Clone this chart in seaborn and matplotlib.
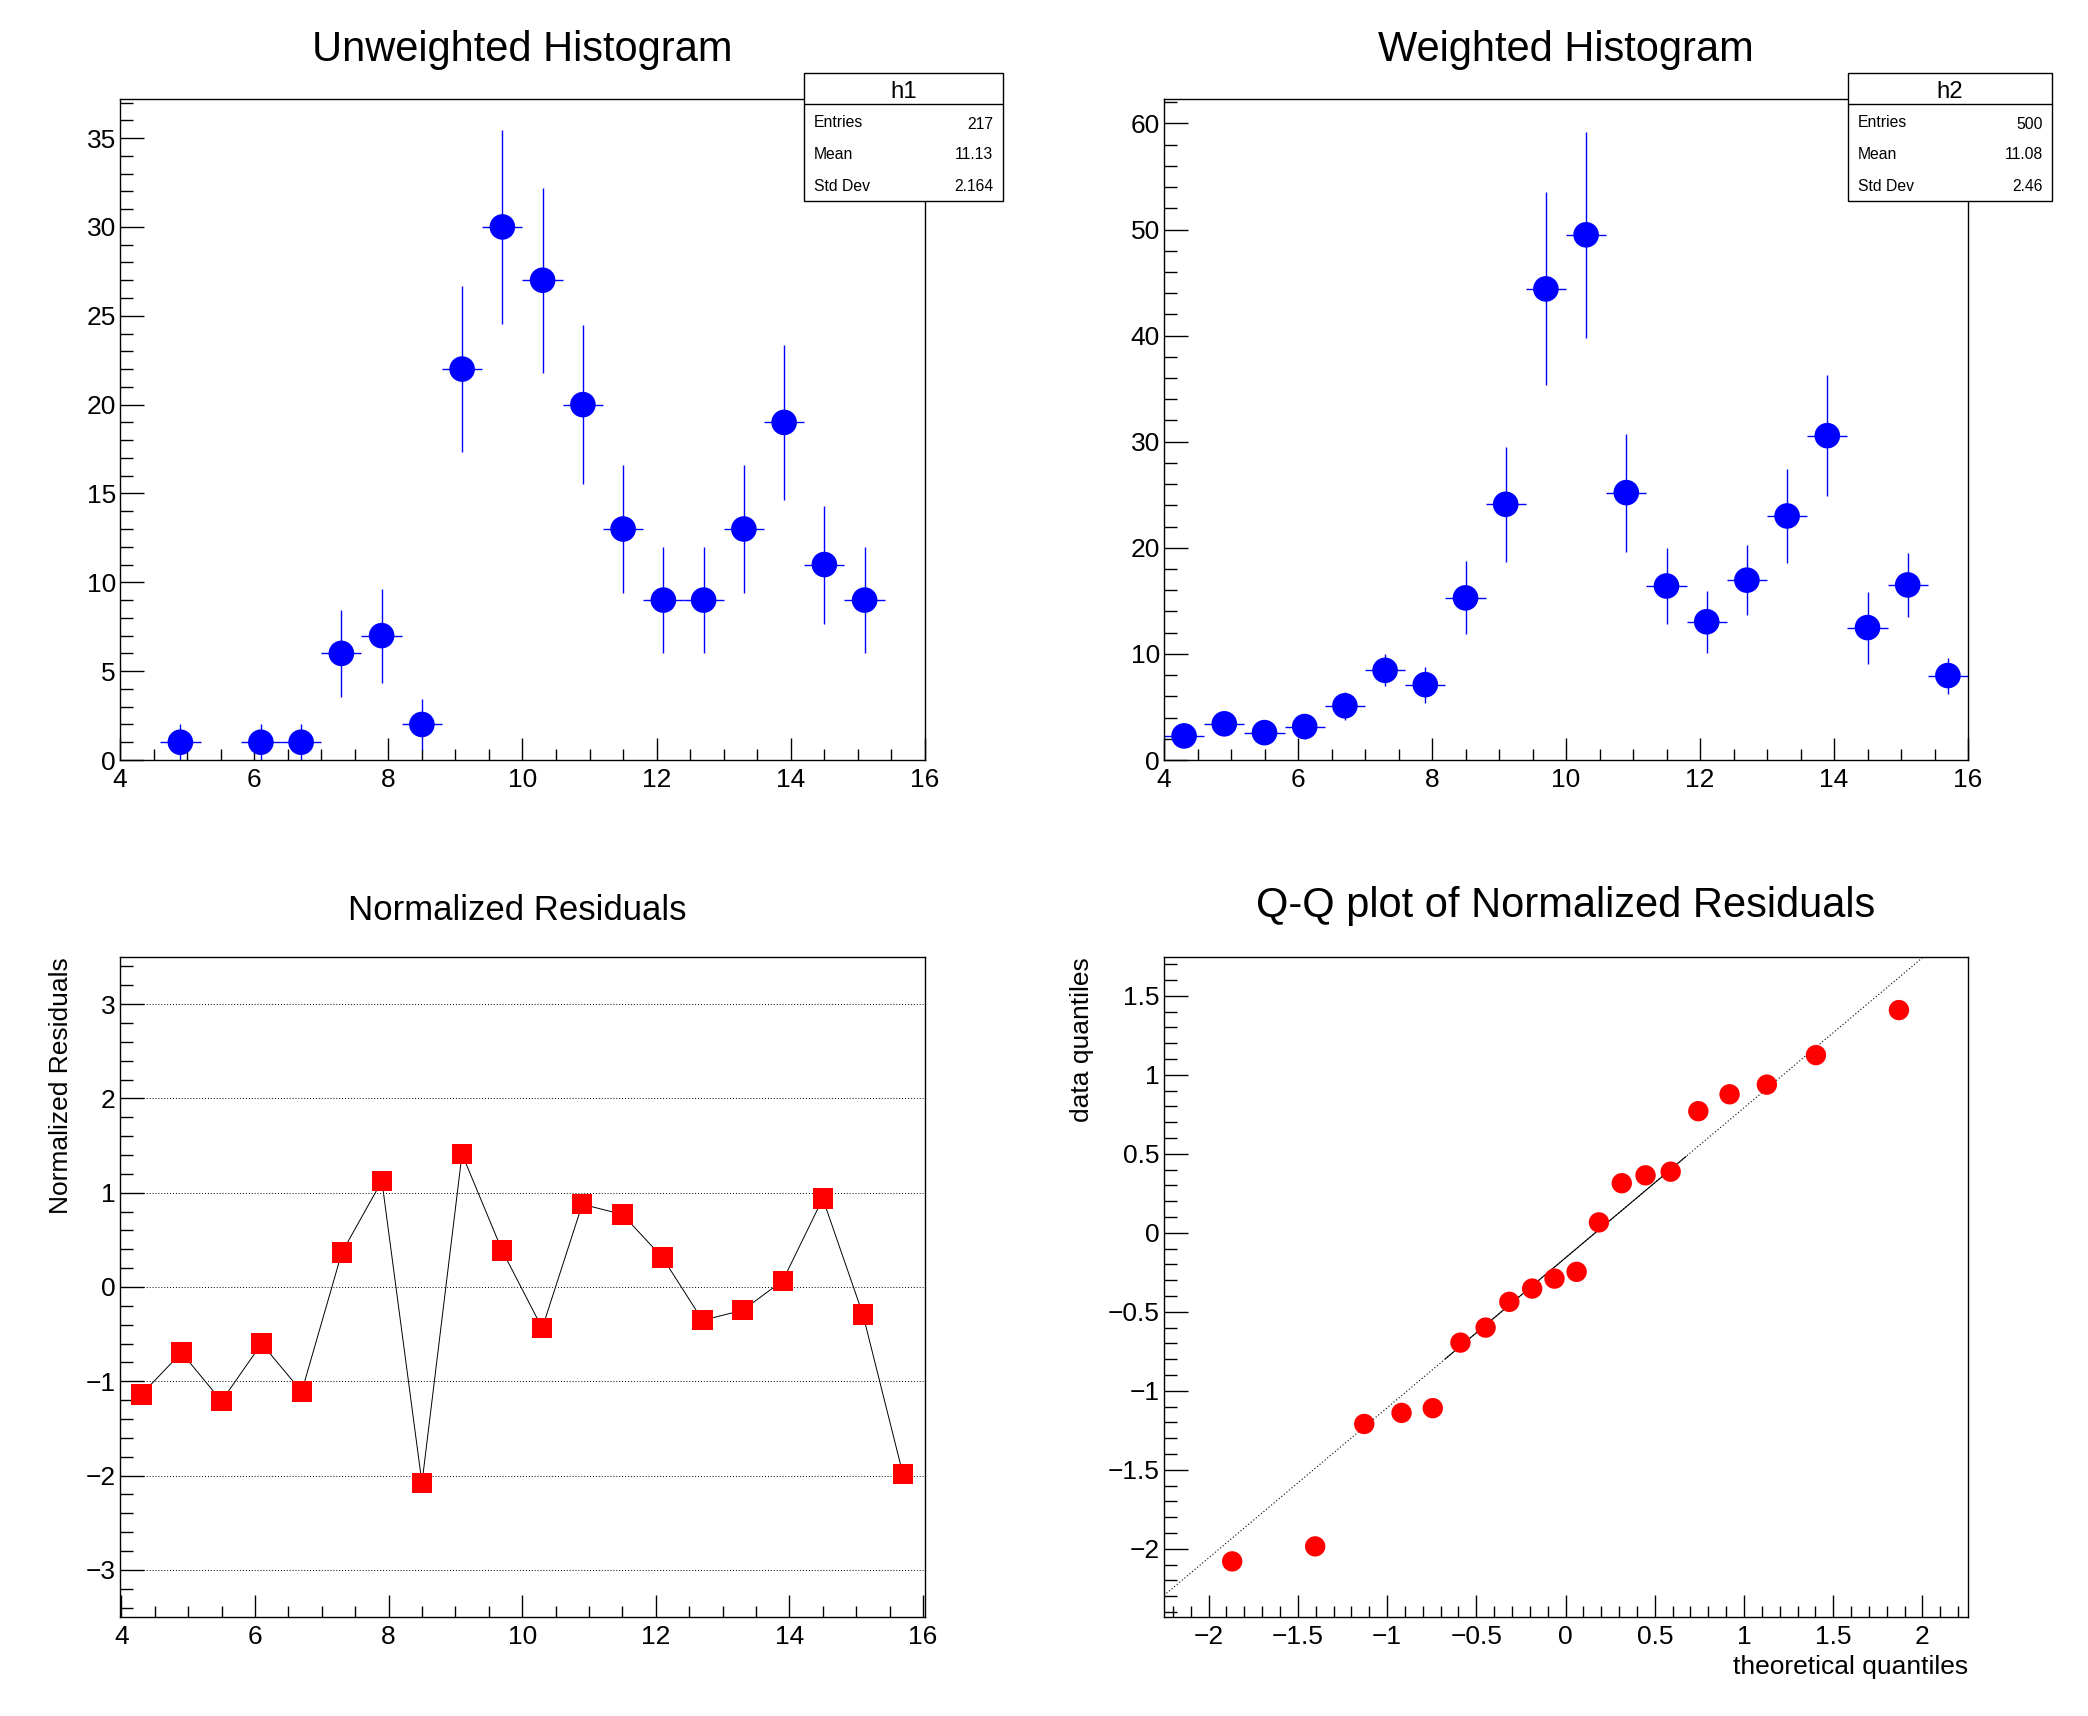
import numpy as np
import pandas as pd
import matplotlib
matplotlib.use("Agg")
import matplotlib.pyplot as plt
import seaborn as sns
from matplotlib.ticker import MultipleLocator, FuncFormatter
from matplotlib.patches import Rectangle
from matplotlib.lines import Line2D

# ---------------- data ----------------
bin_centers = [4.3, 4.9, 5.5, 6.1, 6.7, 7.3, 7.9, 8.5, 9.1, 9.7,
               10.3, 10.9, 11.5, 12.1, 12.7, 13.3, 13.9, 14.5, 15.1, 15.7]
bin_half_width = 0.3

# unweighted histogram (non-empty bins only)
h1_x = [4.9, 6.1, 6.7, 7.3, 7.9, 8.5, 9.1, 9.7, 10.3, 10.9, 11.5, 12.1,
        12.7, 13.3, 13.9, 14.5, 15.1]
h1_counts = [1, 1, 1, 6, 7, 2, 22, 30, 27, 20, 13, 9, 9, 13, 19, 11, 9]
h1_err = [1.0, 1.0, 1.0, 2.45, 2.65, 1.41, 4.69, 5.48, 5.2, 4.47, 3.61,
          3.0, 3.0, 3.61, 4.36, 3.32, 3.0]
h1_stats = ["217", "11.13", "2.164"]

# weighted histogram
h2_values = [2.27, 3.41, 2.58, 3.15, 5.11, 8.45, 7.1, 15.28, 24.1, 44.4,
             49.5, 25.2, 16.4, 13.03, 16.95, 23.0, 30.57, 12.48, 16.5, 7.96]
h2_err = [0.9, 1.1, 1.0, 1.2, 1.3, 1.5, 1.7, 3.45, 5.4, 9.1, 9.7, 5.55,
          3.6, 2.9, 3.3, 4.45, 5.7, 3.4, 3.0, 1.7]
h2_stats = ["500", "11.08", "2.46"]

stat_labels = ["Entries", "Mean", "Std Dev"]

# normalized residuals per bin
residuals = [-1.14, -0.695, -1.21, -0.60, -1.11, 0.364, 1.125, -2.08, 1.41,
             0.387, -0.437, 0.877, 0.77, 0.314, -0.353, -0.247, 0.066,
             0.938, -0.29, -1.985]

# theoretical normal quantiles for the Q-Q plot
qq_theoretical = [-1.868, -1.403, -1.128, -0.919, -0.744, -0.589, -0.448,
                  -0.315, -0.187, -0.062, 0.062, 0.187, 0.315, 0.448, 0.589,
                  0.744, 0.919, 1.128, 1.403, 1.868]
normal_quartile = 0.6745

# ---------------- style ----------------
sns.set_theme(style="white")
plt.rcParams["font.family"] = ["Liberation Sans", "DejaVu Sans"]
plt.rcParams["axes.unicode_minus"] = True
plt.rcParams["text.color"] = "black"
plt.rcParams["axes.labelcolor"] = "black"
plt.rcParams["axes.titlecolor"] = "black"
plt.rcParams["xtick.color"] = "black"
plt.rcParams["ytick.color"] = "black"

W, H = 2088, 1716
fig = plt.figure(figsize=(W / 100, H / 100), dpi=100)
fig.patch.set_facecolor("white")

BLUE = "#0000ff"
RED = "#ff0000"


def fx(px):
    return px / W


def fy(py):
    return 1 - py / H


def make_axes(l, t, r, b):
    return fig.add_axes([l / W, 1 - b / H, (r - l) / W, (b - t) / H])


def fmt(v, pos):
    s = "%g" % round(v, 6)
    return s.replace("-", "\u2212")


def style(ax, xmaj, xmin, ymaj, ymin):
    for sp in ax.spines.values():
        sp.set_visible(True)
        sp.set_linewidth(1.0)
        sp.set_color("black")
    ax.set_facecolor("white")
    ax.xaxis.set_major_locator(MultipleLocator(xmaj))
    ax.xaxis.set_minor_locator(MultipleLocator(xmin))
    ax.yaxis.set_major_locator(MultipleLocator(ymaj))
    ax.yaxis.set_minor_locator(MultipleLocator(ymin))
    ax.xaxis.set_major_formatter(FuncFormatter(fmt))
    ax.yaxis.set_major_formatter(FuncFormatter(fmt))
    ax.tick_params(which="both", direction="in", top=False, right=False,
                   bottom=True, left=True, colors="black", width=1.0,
                   labelsize=19, labelcolor="black")
    ax.tick_params(axis="x", which="major", length=15.5, pad=6)
    ax.tick_params(axis="x", which="minor", length=8)
    ax.tick_params(axis="y", which="major", length=17, pad=3)
    ax.tick_params(axis="y", which="minor", length=9)
    ax.grid(False)


def stats_box(left, right, name, values):
    top, div, bottom = 72.7, 104.3, 200.7
    rect = Rectangle((fx(left), fy(bottom)), fx(right) - fx(left),
                     fy(top) - fy(bottom), transform=fig.transFigure,
                     facecolor="white", edgecolor="black", linewidth=1.0,
                     zorder=10)
    fig.add_artist(rect)
    line = Line2D([fx(left), fx(right)], [fy(div), fy(div)],
                  transform=fig.transFigure, color="black", linewidth=1.0,
                  zorder=11)
    fig.add_artist(line)
    fig.text(fx((left + right) / 2), fy(97.7), name, ha="center",
             va="baseline", fontsize=17.3, color="black", zorder=12)
    label_base = [126.7, 159.3, 190.7]
    value_base = [129.0, 159.3, 190.7]
    for lab, val, lb, vb in zip(stat_labels, values, label_base, value_base):
        fig.text(fx(left + 9.5), fy(lb), lab, ha="left", va="baseline",
                 fontsize=11.3, color="black", zorder=12)
        fig.text(fx(right - 9.5), fy(vb), val, ha="right", va="baseline",
                 fontsize=11.3, color="black", zorder=12)


MS_HIST = 340
MS_SMALL = 215

# ---------------- top-left: unweighted ----------------
ax1 = make_axes(120, 99, 925, 760)
df1 = pd.DataFrame({"x": h1_x, "y": h1_counts, "err": h1_err})
ax1.errorbar(df1["x"], df1["y"], yerr=df1["err"], xerr=bin_half_width,
             fmt="none", ecolor=BLUE, elinewidth=1.0, capsize=0, zorder=2)
sns.scatterplot(data=df1, x="x", y="y", ax=ax1, color=BLUE, s=MS_HIST,
                marker="o", edgecolor="none", linewidth=0, zorder=3,
                legend=False)
ax1.set_xlim(4, 16)
ax1.set_ylim(0, 37.2)
style(ax1, 2, 0.5, 5, 1)
ax1.set_xlabel("")
ax1.set_ylabel("")
ax1.set_title("Unweighted Histogram", fontsize=30, y=1.0582, pad=0,
              color="black")
stats_box(804, 1003, "h1", h1_stats)

# ---------------- top-right: weighted ----------------
ax2 = make_axes(1164, 99, 1968, 760)
df2 = pd.DataFrame({"x": bin_centers, "y": h2_values, "err": h2_err})
ax2.errorbar(df2["x"], df2["y"], yerr=df2["err"], xerr=bin_half_width,
             fmt="none", ecolor=BLUE, elinewidth=1.0, capsize=0, zorder=2)
sns.scatterplot(data=df2, x="x", y="y", ax=ax2, color=BLUE, s=MS_HIST,
                marker="o", edgecolor="none", linewidth=0, zorder=3,
                legend=False)
ax2.set_xlim(4, 16)
ax2.set_ylim(0, 62.3)
style(ax2, 2, 0.5, 10, 2)
ax2.set_xlabel("")
ax2.set_ylabel("")
ax2.set_title("Weighted Histogram", fontsize=30, y=1.0582, pad=0,
              color="black")
stats_box(1848, 2052, "h2", h2_stats)

# ---------------- bottom-left: residuals ----------------
ax3 = make_axes(120, 957, 925, 1617)
df3 = pd.DataFrame({"x": bin_centers, "r": residuals})
for yv in range(-3, 4):
    ax3.axhline(yv, color="black", linewidth=0.7, linestyle=(0, (1, 2)),
                zorder=1)
sns.lineplot(data=df3, x="x", y="r", ax=ax3, color="black", linewidth=0.7,
             zorder=2, legend=False)
sns.scatterplot(data=df3, x="x", y="r", ax=ax3, color=RED, s=MS_SMALL,
                marker="s", edgecolor="none", linewidth=0, zorder=3,
                legend=False)
ax3.set_xlim(3.98, 16.03)
ax3.set_ylim(-3.5, 3.5)
style(ax3, 2, 0.5, 1, 0.2)
ax3.set_xlabel("")
ax3.set_ylabel("Normalized Residuals", fontsize=19, loc="top")
ax3.yaxis.set_label_coords(-0.0733, 1.0)
ax3.yaxis.label.set_va("center")
ax3.set_title("Normalized Residuals", fontsize=25, y=1.0566, x=0.493,
              pad=0, color="black")

# ---------------- bottom-right: Q-Q ----------------
ax4 = make_axes(1164, 957, 1968, 1617)
qq_data = np.sort(np.array(residuals))
df4 = pd.DataFrame({"t": qq_theoretical, "d": qq_data})
q1, q3 = np.percentile(qq_data, [25, 75])
slope = (q3 - q1) / (2 * normal_quartile)
intercept = (q3 + q1) / 2
xl = np.array([-2.25, 2.25])
ax4.plot(xl, intercept + slope * xl, color="black", linewidth=0.8,
         linestyle=(0, (1, 2)), zorder=1)
xs = np.array([-normal_quartile, normal_quartile])
ax4.plot(xs, intercept + slope * xs, color="black", linewidth=0.8,
         linestyle="-", zorder=1)
sns.scatterplot(data=df4, x="t", y="d", ax=ax4, color=RED, s=MS_SMALL,
                marker="o", edgecolor="none", linewidth=0, zorder=3,
                legend=False)
ax4.set_xlim(-2.25, 2.255)
ax4.set_ylim(-2.432, 1.746)
style(ax4, 0.5, 0.1, 0.5, 0.1)
ax4.set_xlabel("theoretical quantiles", fontsize=19, loc="right")
ax4.xaxis.set_label_coords(1.0, -0.086)
ax4.xaxis.label.set_va("baseline")
ax4.set_ylabel("data quantiles", fontsize=19, loc="top")
ax4.yaxis.set_label_coords(-0.1025, 1.0)
ax4.yaxis.label.set_va("center")
ax4.set_title("Q-Q plot of Normalized Residuals", fontsize=30, y=1.0599,
              pad=0, color="black")

fig.savefig("out.png", dpi=100, facecolor="white")
